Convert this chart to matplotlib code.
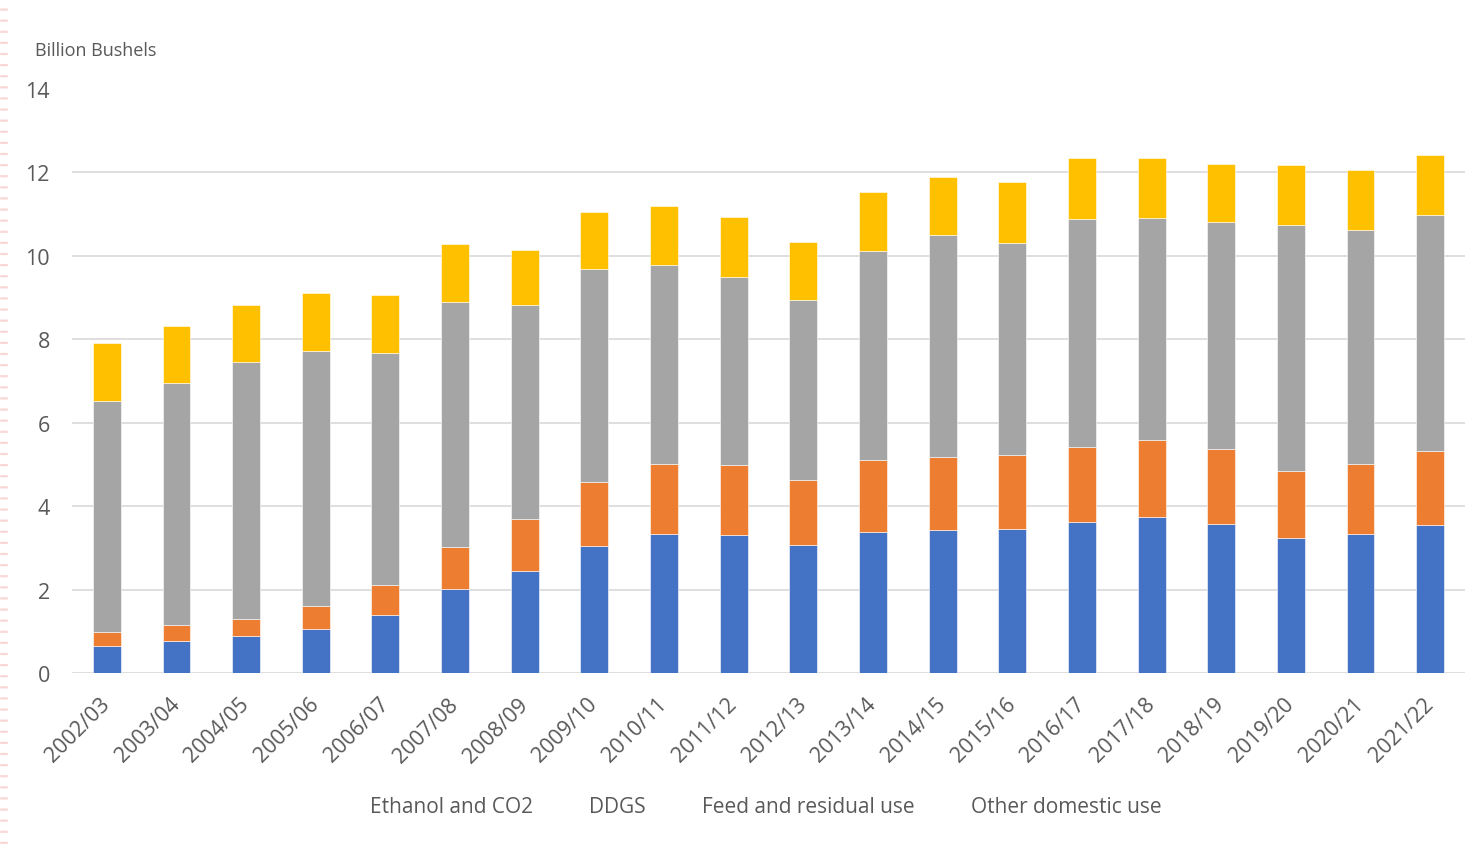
import matplotlib
matplotlib.use('Agg')
import matplotlib.pyplot as plt
from matplotlib.lines import Line2D
import numpy as np

#Marketing years on the x axis.
years = ['2002/03', '2003/04', '2004/05', '2005/06', '2006/07', '2007/08',
         '2008/09', '2009/10', '2010/11', '2011/12', '2012/13', '2013/14',
         '2014/15', '2015/16', '2016/17', '2017/18', '2018/19', '2019/20',
         '2020/21', '2021/22']

#Segment sizes (billion bushels).
ethanol = [0.65, 0.77, 0.89, 1.06, 1.39, 2.02, 2.45, 3.05, 3.34, 3.31,
           3.08, 3.39, 3.43, 3.46, 3.61, 3.73, 3.57, 3.23, 3.34, 3.54]
ddgs    = [0.33, 0.38, 0.41, 0.55, 0.72, 1.01, 1.25, 1.53, 1.67, 1.67,
           1.54, 1.71, 1.75, 1.76, 1.81, 1.86, 1.80, 1.61, 1.68, 1.77]
feed    = [5.55, 5.81, 6.16, 6.12, 5.55, 5.86, 5.12, 5.10, 4.77, 4.52,
           4.32, 5.01, 5.31, 5.09, 5.46, 5.31, 5.43, 5.91, 5.60, 5.66]
other   = [1.37, 1.37, 1.37, 1.39, 1.41, 1.40, 1.33, 1.38, 1.41, 1.44,
           1.40, 1.42, 1.39, 1.45, 1.46, 1.45, 1.41, 1.43, 1.44, 1.44]

labels = ['Ethanol and CO2', 'DDGS', 'Feed and residual use',
          'Other domestic use']
colors = ['#4472C4', '#ED7D31', '#A5A5A5', '#FFC000']

plt.rcParams['font.family'] = ['Open Sans', 'DejaVu Sans']
plt.rcParams['lines.scale_dashes'] = False
TXT = '#595959'

fig = plt.figure(figsize=(14.76, 8.45), dpi=100)
ax = fig.add_axes([72/1476, 1 - 674/845, (1465 - 72)/1476, (674 - 90)/845])

#Stack the four series.
x = np.arange(len(years))
bottom = np.zeros(len(years))
bars = []
for series, color in zip([ethanol, ddgs, feed, other], colors):
	b = ax.bar(x, series, 0.4, bottom=bottom, color=color,
	           edgecolor='white', linewidth=0.4, zorder=3)
	bars.append(b)
	bottom += np.array(series)

ax.set_xlim(-0.5, len(years) - 0.5)
ax.set_ylim(0, 14)
ax.set_yticks(range(0, 15, 2))
ax.set_xticks(x)
ax.set_xticklabels(years, rotation=45, ha='right', va='center',
                   rotation_mode='anchor')
ax.tick_params(axis='y', length=0, pad=16, labelsize=15.5, labelcolor=TXT)
ax.tick_params(axis='x', length=0, pad=20, labelsize=15.5, labelcolor=TXT)

#Horizontal gridlines only, no line at the top value.
ax.grid(axis='y', color='#D9D9D9', linewidth=1.2, zorder=0)
ax.get_ygridlines()[-1].set_visible(False)
for s in ax.spines.values():
	s.set_visible(False)

fig.text(35/1476, 1 - 51/845, 'Billion Bushels', fontsize=13, color=TXT,
         va='center', ha='left')

#Legend shows only the names, the colour keys are not drawn.
leg = ax.legend(bars, labels, ncol=4, frameon=False, handlelength=0,
                handletextpad=0, columnspacing=2.7, fontsize=15,
                loc='center', bbox_to_anchor=(0.498, -(808 - 674)/(674 - 90)))
for t in leg.get_texts():
	t.set_color(TXT)
for h in leg.legend_handles:
	h.set_visible(False)

#Faint dashed stripe at the left edge of the screenshot.
fig.add_artist(Line2D([4/1476, 4/1476], [0, 1], transform=fig.transFigure,
                      color='#F9D6D6', linewidth=5.5,
                      linestyle=(0, (1.6, 6.4))))

fig.savefig('out.png', dpi=100)
